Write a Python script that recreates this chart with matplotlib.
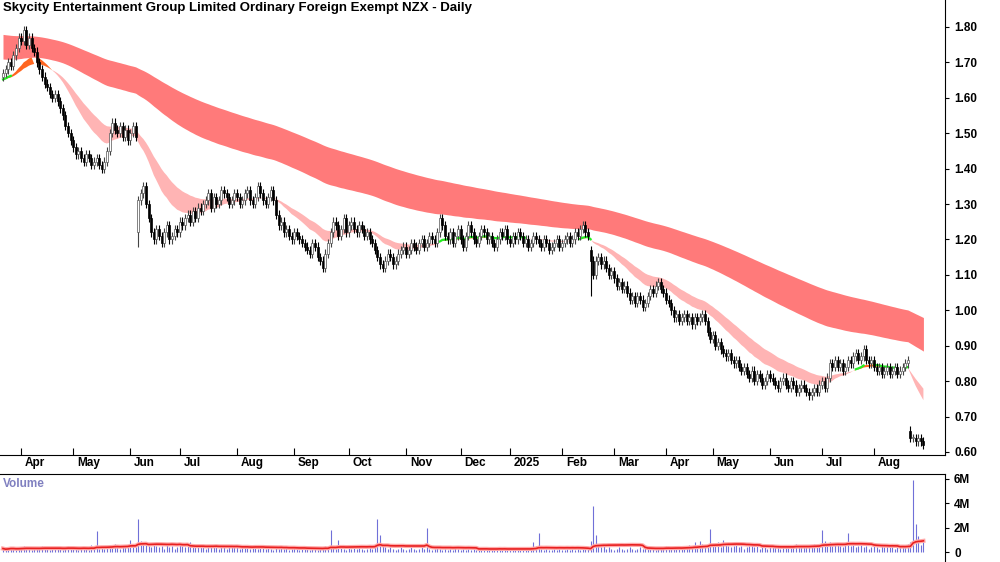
import matplotlib
matplotlib.use("Agg")
import matplotlib.pyplot as plt
import numpy as np
import pandas as pd

plt.rcParams['font.family'] = ['Liberation Sans', 'DejaVu Sans']

closes = (
 [1.67,1.68,1.70,1.69,1.72] +
 [1.74,1.77,1.76,1.79,1.75,1.77,1.74,1.73] +
 [1.70,1.68,1.66,1.64,1.63,1.61,1.60,1.61,1.59,1.57] +
 [1.55,1.52,1.50,1.48,1.46,1.44] +
 [1.45,1.43,1.42,1.44,1.43,1.41,1.42,1.43,1.41,1.40,1.42] +
 [1.45,1.50,1.53,1.51,1.50,1.52,1.49,1.51,1.48,1.50,1.52] +
 [1.49] + [1.31] +
 [1.33,1.35,1.30,1.26,1.22,1.20,1.23,1.21] +
 [1.19,1.22,1.24,1.20,1.21,1.23,1.22,1.25,1.24,1.26,1.27,1.25,1.28,1.26,1.29,1.28] +
 [1.30,1.31,1.33,1.29,1.32,1.30,1.31,1.34,1.33,1.32,1.30,1.31,1.33,1.32,1.30,1.31] +
 [1.33,1.34,1.31,1.30,1.32,1.35,1.33,1.31,1.30,1.32,1.34,1.31] +
 [1.27,1.24,1.25,1.22,1.23,1.21,1.20,1.22,1.21,1.20,1.19] +
 [1.18,1.17,1.16,1.19,1.18,1.15,1.14,1.12,1.16,1.19] +
 [1.22,1.25,1.24,1.21,1.23,1.26,1.22,1.24,1.25,1.23,1.22,1.24,1.23,1.21,1.22] +
 [1.20,1.19,1.17,1.15,1.13,1.12,1.14,1.16,1.15,1.13,1.14,1.16] +
 [1.17,1.18,1.16,1.17,1.19,1.18,1.17,1.19,1.20,1.18,1.19,1.21,1.20] +
 [1.19,1.22,1.26,1.24,1.21] +
 [1.20,1.22,1.19,1.21,1.23,1.20,1.18,1.21,1.24,1.22,1.20,1.19,1.21,1.23,1.22,1.20,1.21,1.19,1.18,1.20,
  1.22,1.21,1.23,1.20,1.19,1.21,1.20,1.22,1.21,1.19,1.20,1.18,1.19,1.21,1.20,1.19,1.18,1.20,1.19,1.17,
  1.18,1.19,1.20,1.18,1.19,1.20,1.21,1.19,1.20,1.22,1.21,1.23,1.24,1.22,1.21] +
 [1.14,1.10,1.14,1.15,1.13] +
 [1.14,1.12,1.10,1.11,1.09,1.07,1.08,1.06,1.07,1.05,1.03,1.04,1.02,1.04,1.03,1.01,1.02] +
 [1.04,1.06,1.05,1.07,1.08,1.06,1.05,1.03,1.02] +
 [1.00,0.98,0.99,0.97,0.98,0.99,0.97,0.98,0.96,0.98,0.97,0.98,0.99,0.97] +
 [0.94,0.92,0.93,0.90,0.91,0.89,0.88,0.87,0.88,0.86,0.85,0.86,0.84,0.83,0.84] +
 [0.82,0.81,0.83,0.80,0.82,0.81,0.79,0.80,0.82,0.81,0.80,0.79,0.78,0.80,0.81] +
 [0.79,0.78,0.80,0.79,0.77,0.78,0.79,0.78,0.77,0.76,0.77,0.78,0.77,0.79,0.80,0.78] +
 [0.81,0.85,0.84,0.86,0.84,0.85,0.83,0.84,0.86,0.85,0.87,0.88,0.86,0.87,0.89,0.86] +
 [0.85,0.86,0.84,0.83,0.84,0.82,0.83,0.84,0.82,0.83,0.84,0.82,0.83] +
 [0.84,0.85,0.86] +
 [0.64,0.64,0.63,0.64,0.63,0.62]
)
# opens on gap days (index -> open) and extra-long wick lows
gap_opens = {52: 1.22, 226: 1.17, 349: 0.66}
gap_lows = {52: 1.18, 226: 1.04}
volume_100k = [
 3,2,3,4,3,2,3,4,5,3,3,2,4,3,3,5,4,3,2,3,
 3,4,3,2,3,5,3,4,3,2,3,4,3,2,6,4,17,3,4,3,
 4,6,5,7,4,3,5,6,4,10,5,4,27,9,7,6,5,4,6,5,
 4,5,3,6,4,5,3,4,7,5,4,6,8,5,4,6,5,4,3,5,
 4,6,5,3,4,5,3,4,6,4,5,3,4,5,4,3,4,6,3,4,
 5,3,4,3,2,4,3,5,3,4,2,3,4,3,2,3,4,3,2,3,
 3,2,4,3,5,3,18,4,3,10,4,3,2,4,3,5,3,4,3,2,
 3,4,3,5,27,14,6,4,3,4,3,2,3,4,3,2,3,4,3,2,
 3,4,3,20,3,2,3,4,3,2,3,2,3,2,4,3,2,3,2,3,
 2,3,2,3,4,2,3,2,3,2,3,4,2,3,2,3,2,2,3,2,
 3,2,3,4,8,5,16,3,2,3,2,2,3,2,3,2,2,3,2,3,
 2,3,2,3,5,3,9,38,14,6,4,5,3,4,3,2,3,4,3,2,
 3,4,3,2,3,4,3,5,3,4,3,2,3,4,3,5,4,3,4,3,
 4,3,5,4,6,5,8,6,9,7,5,6,19,6,5,8,4,10,6,5,
 4,5,6,4,5,3,4,5,6,4,5,3,4,5,3,6,4,5,4,3,
 4,5,6,4,5,7,4,6,5,4,6,5,7,6,5,18,9,6,8,5,
 6,7,5,4,6,16,5,6,4,5,6,4,5,3,4,5,4,3,6,4,
 5,4,6,3,5,4,6,5,7,8,59,23,13,6,10]
month_labels = ["Apr","May","Jun","Jul","Aug","Sep","Oct","Nov","Dec","2025","Feb","Mar","Apr","May","Jun","Jul","Aug"]
month_idx = [7,27,49,68,90,112,133,155,176,195,215,235,255,273,295,315,335]
price_ticks = [0.60,0.70,0.80,0.90,1.00,1.10,1.20,1.30,1.40,1.50,1.60,1.70,1.80]
# EMA seeds (values before chart start)
long_seed_fast, long_seed_slow = 1.71, 1.78
short_seed = 1.65

c = np.array(closes)
n = len(c)
idx = np.arange(n)
o = np.concatenate([[c[0]-0.01], c[:-1]])
for k, v in gap_opens.items():
    o[k] = v
hi = np.maximum(o, c) + 0.012
lo = np.minimum(o, c) - 0.012
for k, v in gap_lows.items():
    lo[k] = v
vol = np.array(volume_100k) * 1e5

def ema(x, span, seed):
    s = pd.concat([pd.Series([seed]), pd.Series(x)], ignore_index=True)
    return s.ewm(span=span, adjust=False).mean().values[1:]

s_fast = ema(c, 20, short_seed)
s_slow = ema(c, 35, short_seed)
l_fast = ema(c, 120, long_seed_fast)
l_slow = ema(c, 200, long_seed_slow)

fig = plt.figure(figsize=(10, 5.62), dpi=100)
ax = fig.add_axes([0, 1-455/562, 0.945, 455/562])
axv = fig.add_axes([0, 0, 0.945, 88/562])

lt, lb = np.maximum(l_fast, l_slow), np.minimum(l_fast, l_slow)
ax.fill_between(idx, lb, lt, color="#ff7a7a", lw=0, zorder=1)
inside = s_fast > lb
ax.fill_between(idx, lb, lt, where=inside, color="#ff6620", lw=0, zorder=1.1)
st, sb = np.maximum(s_fast, s_slow), np.minimum(s_fast, s_slow)
bear = s_fast < s_slow
ax.fill_between(idx, sb, st, where=bear, color="#ffb4b4", lw=0, zorder=2, interpolate=True)
ax.fill_between(idx, sb, st, where=~bear & ~inside, color="#ff6620", lw=0, zorder=2, interpolate=True)
g = np.where(~bear & (((s_fast - s_slow) < 0.006) | inside), s_fast, np.nan)
ax.plot(idx, g, color="#22ee22", lw=1.6, zorder=2.2)

for i in idx:
    up = c[i] >= o[i]
    ax.vlines(i, lo[i], hi[i], color="#444444" if up else "black", lw=0.8, zorder=3)
    b0, b1 = min(o[i], c[i]), max(o[i], c[i])
    if b1 - b0 < 0.003:
        b1 = b0 + 0.003
    ax.add_patch(plt.Rectangle((i-0.4, b0), 0.8, b1-b0, facecolor="white" if up else "black",
                               edgecolor="#555555" if up else "black", lw=0.5, zorder=4))

ax.set_xlim(-1.15, 362.3)
ax.set_ylim(0.5915, 1.876)
ax.yaxis.tick_right()
ax.set_yticks(price_ticks)
ax.set_yticklabels([f"{v:.2f}" for v in price_ticks], fontsize=8.5, fontweight="bold")
ax.tick_params(axis='y', length=3, direction='out', pad=4)
ax.set_xticks(month_idx)
ax.set_xticklabels([])
ax.tick_params(axis='x', length=5, direction='in')
for m, lab in zip(month_idx, month_labels):
    ax.text(m+1.5, -0.005, lab, transform=ax.get_xaxis_transform(), va="top", ha="left",
            fontsize=8.5, fontweight="bold")
for sp in ["top", "left"]:
    ax.spines[sp].set_visible(False)
ax.text(0.003, 0.995, "Skycity Entertainment Group Limited Ordinary Foreign Exempt NZX - Daily",
        transform=ax.transAxes, va="top", ha="left", fontsize=9.5, fontweight="bold")

axv.vlines(idx, 0, vol, color="#7070d8", lw=0.8)
ma = pd.Series(vol).rolling(20, min_periods=1).mean().values
axv.plot(idx, ma, color="#ffaaaa", lw=3)
axv.plot(idx, ma, color="#e82020", lw=1.2)
axv.set_xlim(-1.15, 362.3)
axv.set_ylim(-0.8e6, 6.4e6)
axv.yaxis.tick_right()
axv.set_yticks([0, 2e6, 4e6, 6e6])
axv.set_yticklabels(["0", "2M", "4M", "6M"], fontsize=8.5, fontweight="bold")
axv.tick_params(axis='y', length=3)
axv.set_xticks([])
for sp in ["left", "bottom"]:
    axv.spines[sp].set_visible(False)
axv.text(0.003, 0.95, "Volume", transform=axv.transAxes, va="top", ha="left",
         fontsize=8.5, fontweight="bold", color="#8080c0")

fig.savefig("out.png", dpi=100)
